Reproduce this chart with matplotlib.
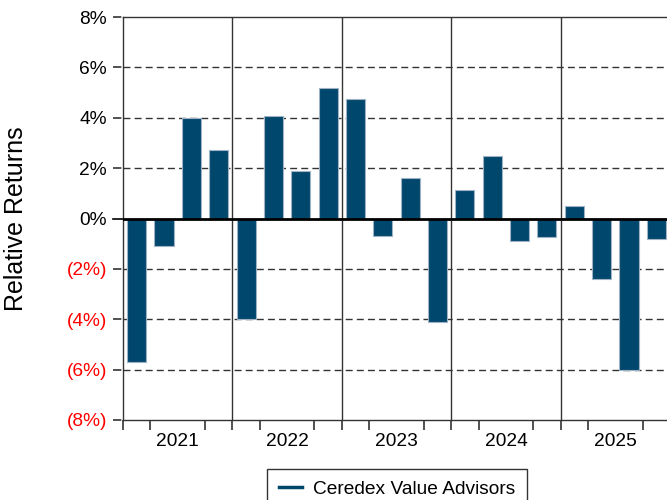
import matplotlib.pyplot as plt
from matplotlib.lines import Line2D

plt.rcParams['font.family'] = ['Liberation Sans', 'DejaVu Sans']

# quarterly relative returns (%), 2021 Q1 .. 2025 Q4
years = ['2021', '2022', '2023', '2024', '2025']
returns = [-5.7, -1.1, 4.0, 2.7,
           -4.0, 4.05, 1.9, 5.2,
           4.75, -0.7, 1.6, -4.1,
           1.15, 2.5, -0.9, -0.75,
           0.5, -2.4, -6.0, -0.8]
yticks = [-8, -6, -4, -2, 0, 2, 4, 6, 8]
series_name = 'Ceredex Value Advisors'

bar_color = '#00476E'

fig = plt.figure(figsize=(6.67, 5), dpi=100)
ax = fig.add_axes([123 / 667, 80 / 500, 547 / 667, 403 / 500])

xs = [i + 0.5 for i in range(len(returns))]
ax.bar(xs, returns, width=0.7, color=bar_color, edgecolor='#9fb3c4',
       linewidth=0.8, zorder=3)

ax.set_xlim(0, len(returns))
ax.set_ylim(-8, 8)

# dashed grid, extended a bit left of the spine as tick marks
for y in yticks:
    if y == 0:
        ax.axhline(0, color='black', lw=2, zorder=4)
        ax.plot([-0.37, 0], [0, 0], color='black', lw=1.2, clip_on=False)
    else:
        ls = (0, (5, 3))
        ax.plot([-0.37, 0], [y, y], color='#333333', lw=1.2, ls=ls, clip_on=False)
        if abs(y) < 8:
            ax.axhline(y, color='#333333', lw=1.0, ls=ls, zorder=1)

# year separators
for k in range(1, len(years)):
    ax.axvline(k * 4, color='#333333', lw=1.0, zorder=2)

ax.set_yticks(yticks)
labels = []
for y in yticks:
    labels.append(f'{y}%' if y >= 0 else f'({abs(y)}%)')
ax.set_yticklabels(labels, fontsize=13.8)
for lab, y in zip(ax.get_yticklabels(), yticks):
    lab.set_color('red' if y < 0 else 'black')
ax.tick_params(axis='y', length=0, pad=11.5)

ax.set_xticks([k * 4 + 2 for k in range(len(years))])
ax.set_xticklabels(years, fontsize=13.8)
ax.set_xticks(range(len(returns) + 1), minor=True)
ax.tick_params(axis='x', which='major', length=0, pad=9)
ax.tick_params(axis='x', which='minor', length=7.5, width=1.2, color='#333333')

for s in ax.spines.values():
    s.set_color('#333333')
    s.set_linewidth(1.0)

ax.set_ylabel('Relative Returns', fontsize=18, labelpad=28)

handle = Line2D([], [], color=bar_color, lw=2.5)
fig.legend([handle], [series_name], loc='upper center',
           bbox_to_anchor=(397 / 667, 1 - 459 / 500), fontsize=13.8,
           frameon=True, fancybox=False, edgecolor='black', handlelength=1.2,
           borderpad=0.6, handletextpad=0.6)

fig.savefig('out.png', dpi=100)
